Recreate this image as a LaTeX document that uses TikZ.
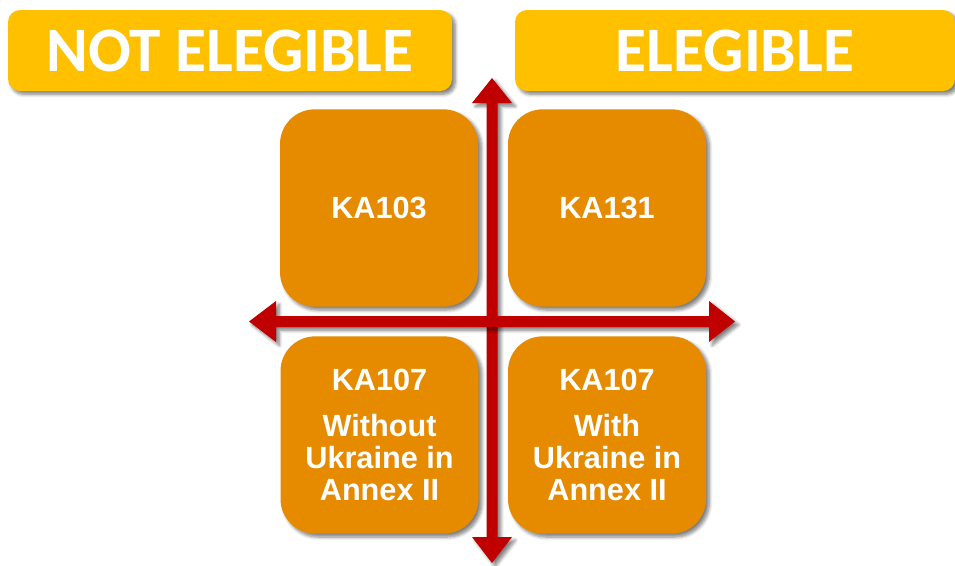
\documentclass[tikz,border=0pt]{standalone}
\usepackage{fontspec}
\usetikzlibrary{shadows.blur}
\newfontfamily\hdrfont{Carlito}[BoldFont={* Bold}]
\newfontfamily\boxfont{Liberation Sans}
\definecolor{hdrYellow}{HTML}{FFC000}
\definecolor{sqOrange}{HTML}{E68A00}
\definecolor{arrRed}{HTML}{C00000}
\tikzset{
  softshadow/.style={blur shadow={shadow xshift=2.5pt, shadow yshift=-2.5pt, shadow blur steps=6, shadow blur radius=2.5pt, shadow opacity=50}},
  header/.style={fill=hdrYellow, rounded corners=9pt, minimum width=333pt, minimum height=60.75pt, inner sep=0pt, text=white, font=\hdrfont\bfseries\fontsize{47.5}{50}\selectfont, softshadow},
  square/.style={fill=sqOrange, rounded corners=26pt, minimum width=148.5pt, minimum height=148pt, inner sep=0pt, text=white, align=center, font=\boxfont\bfseries\fontsize{23}{24}\selectfont, softshadow},
  redarrow/.style={fill=arrRed, draw=none, softshadow}
}
\begin{document}
\begin{tikzpicture}[x=0.75pt, y=-0.75pt]
\useasboundingbox (0,0) rectangle (955,565);
% headers
\node[header] (notel) at (230,50.5) {\raisebox{-1.5pt}{NOT ELEGIBLE}};
\node[header, minimum width=330pt] (el) at (735,50.5) {\raisebox{-1.5pt}{ELEGIBLE}};
% squares
\node[square] (tl) at (379,208) {KA103};
\node[square] (tr) at (607,208) {KA131};
\node[square] (bl) at (379.5,435) {KA107\\[10.5pt]Without\\Ukraine in\\Annex II};
\node[square] (br) at (607,435) {KA107\\[10.5pt]With\\Ukraine in\\Annex II};
% vertical double arrow
\fill[redarrow] (492,78) -- (512,103) -- (497.5,103) -- (497.5,537) -- (512,537) -- (492,563) -- (472,537) -- (486.5,537) -- (486.5,103) -- (472,103) -- cycle;
% horizontal double arrow
\fill[redarrow] (249,321.5) -- (276,301) -- (276,316) -- (709,316) -- (709,301) -- (735,321.5) -- (709,342) -- (709,327) -- (276,327) -- (276,342) -- cycle;
\end{tikzpicture}
\end{document}
